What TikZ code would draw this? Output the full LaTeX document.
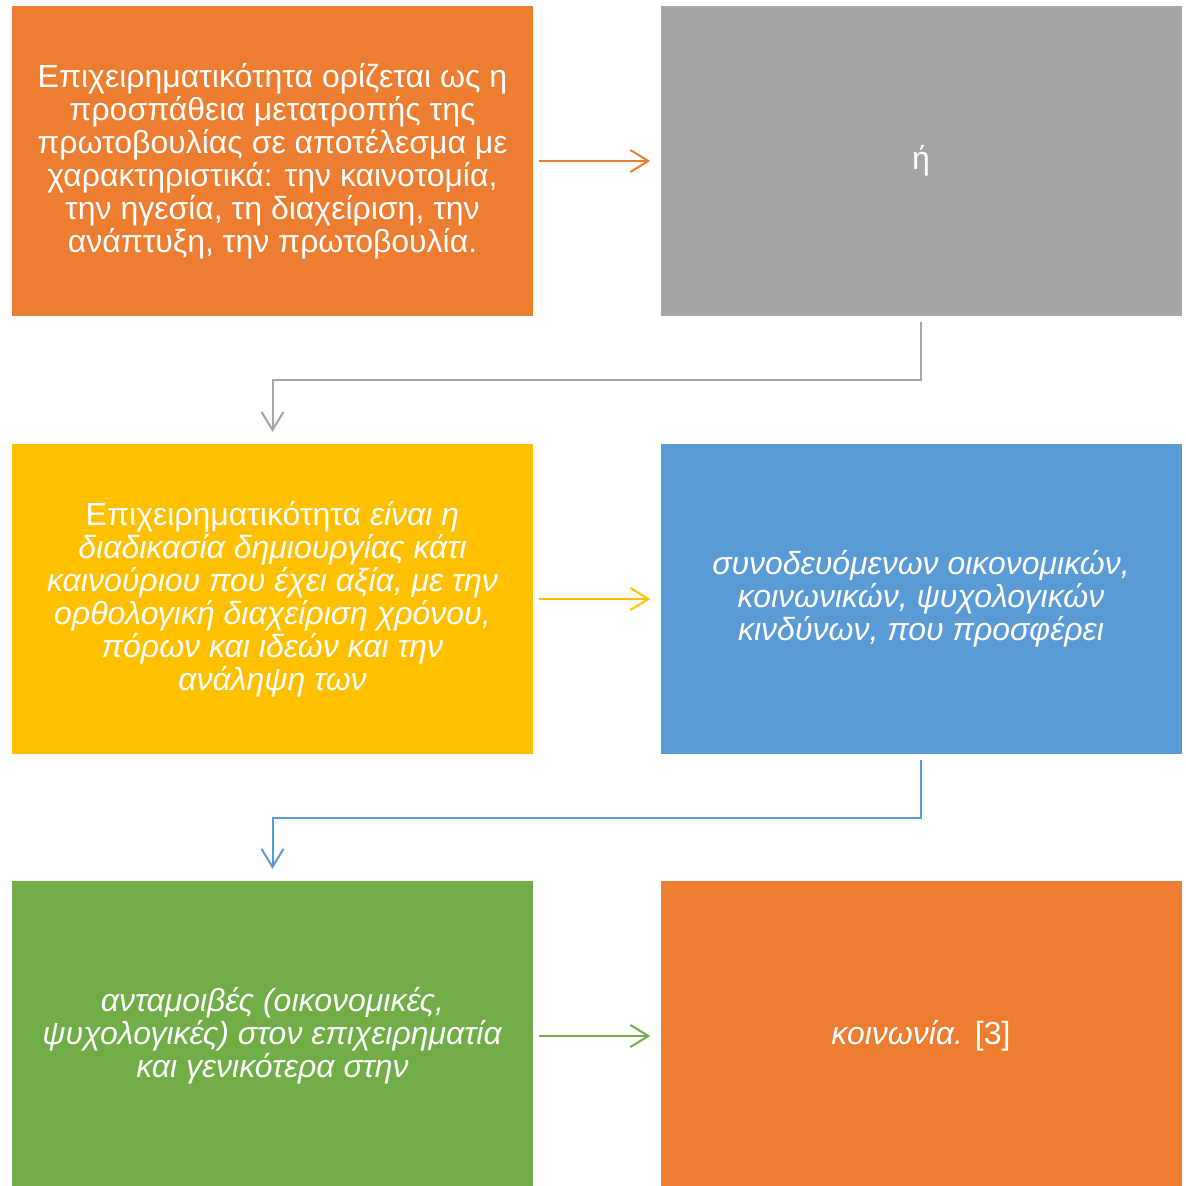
\documentclass[tikz,border=0pt]{standalone}
\usepackage{fontspec}
\setmainfont{Liberation Sans}
\usepackage{tikz}
\usetikzlibrary{arrows.meta}
\definecolor{orng}{RGB}{237, 125, 49}
\definecolor{gry}{RGB}{165, 165, 165}
\definecolor{yllw}{RGB}{255, 192, 0}
\definecolor{blu}{RGB}{91, 155, 213}
\definecolor{grn}{RGB}{112, 173, 71}

\begin{document}
\begin{tikzpicture}[x=1pt, y=-1pt,
    box/.style={minimum width=521pt, minimum height=310pt, inner sep=0pt,
                text=white, align=center,
                font=\fontsize{32}{33}\selectfont},
    link/.style={line width=2pt, -{Straight Barb[length=18pt, width=22pt, line width=2pt]}}]
  \useasboundingbox (0, 0) rectangle (1186, 1186);
  \fill[white] (0, 0) rectangle (1186, 1186);

  % top row
  \node[box, fill=orng] (def) at (272.5, 161) {Επιχειρηματικότητα ορίζεται ως η\\
    προσπάθεια μετατροπής της\\ πρωτοβουλίας σε αποτέλεσμα με\\
    χαρακτηριστικά: την καινοτομία,\\ την ηγεσία, τη διαχείριση, την\\
    ανάπτυξη, την πρωτοβουλία.};
  \node[box, fill=gry] (or) at (921, 161) {ή};

  % middle row
  \node[box, fill=yllw] (proc) at (272.5, 599) {Επιχειρηματικότητα \textit{είναι η}\\
    \textit{διαδικασία δημιουργίας κάτι}\\ \textit{καινούριου που έχει αξία, με την}\\
    \textit{ορθολογική διαχείριση χρόνου,}\\ \textit{πόρων και ιδεών και την}\\
    \textit{ανάληψη των}};
  \node[box, fill=blu] (risk) at (921, 599) {\textit{συνοδευόμενων οικονομικών,}\\
    \textit{κοινωνικών, ψυχολογικών}\\ \textit{κινδύνων, που προσφέρει}};

  % bottom row
  \node[box, fill=grn] (rew) at (272.5, 1036) {\textit{ανταμοιβές (οικονομικές,}\\
    \textit{ψυχολογικές) στον επιχειρηματία}\\ \textit{και γενικότερα στην}};
  \node[box, fill=orng] (soc) at (921, 1036) {\textit{κοινωνία.} [3]};

  % connectors
  \draw[link, orng] ([xshift=6pt]def.east) -- ([xshift=-10pt]or.west);
  \draw[link, yllw] ([xshift=6pt]proc.east) -- ([xshift=-10pt]risk.west);
  \draw[link, grn] ([xshift=6pt]rew.east) -- ([xshift=-10pt]soc.west);
  \draw[link, gry] ([yshift=-6pt]or.south) -- ++(0, 58) -| ([yshift=12pt]proc.north);
  \draw[link, blu] ([yshift=-6pt]risk.south) -- ++(0, 58) -| ([yshift=12pt]rew.north);
\end{tikzpicture}
\end{document}
